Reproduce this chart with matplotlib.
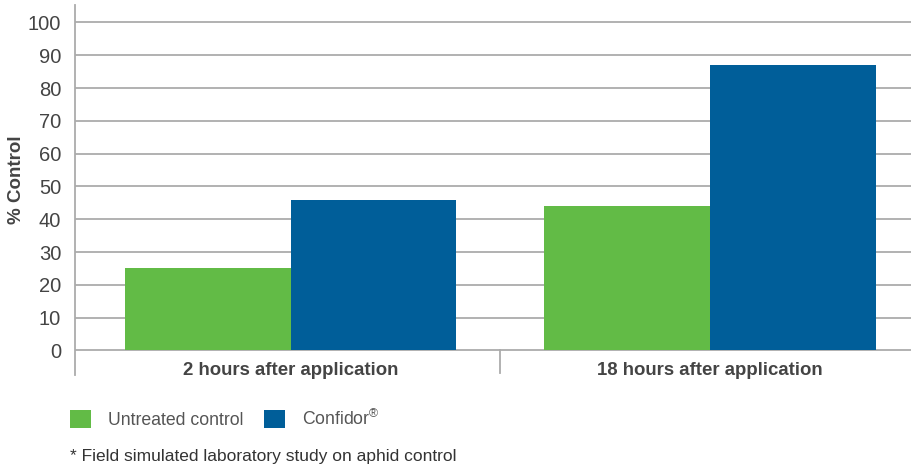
import matplotlib
matplotlib.use("Agg")
import matplotlib.pyplot as plt
import numpy as np

# data
categories = ["2 hours after application", "18 hours after application"]
series_names = ["Untreated control", "Confidor$^{\\mathrm{®}}$"]
untreated = [25, 44]
confidor = [46, 87]
yticks = [0, 10, 20, 30, 40, 50, 60, 70, 80, 90, 100]

GREEN = "#62BB46"
BLUE = "#005E99"
GRID = "#ababab"
TEXT = "#444444"

plt.rcParams["font.family"] = ["Liberation Sans", "DejaVu Sans"]
plt.rcParams["mathtext.fontset"] = "custom"
plt.rcParams["mathtext.rm"] = "Liberation Sans"

fig = plt.figure(figsize=(9.12, 4.70), dpi=100)
ax = fig.add_axes([75 / 912, 1 - 375 / 470, 1 - 75 / 912, 370 / 470])

x = np.arange(len(categories))
w = 0.395
bars1 = ax.bar(x - w / 2, untreated, width=w, color=GREEN, zorder=3, label=series_names[0])
bars2 = ax.bar(x + w / 2, confidor, width=w, color=BLUE, zorder=3, label=series_names[1])

# horizontal grid lines incl. the zero baseline
for t in yticks:
    ax.axhline(t, color=GRID, linewidth=1.3, zorder=1)

ax.set_xlim(-0.515, 1.482)
ax.set_ylim(-7.47, 105.3)

for s in ["top", "right", "bottom"]:
    ax.spines[s].set_visible(False)
ax.spines["left"].set_color(GRID)
ax.spines["left"].set_linewidth(1.3)

ax.set_yticks(yticks)
ax.set_yticklabels([str(t) for t in yticks], fontsize=14.5, color=TEXT)
ax.tick_params(axis="y", length=0, pad=10)
ax.set_xticks([])

# separator between the two categories
ax.plot([0.5, 0.5], [0, -6.9], color=GRID, linewidth=1.3, clip_on=False)

for xi, lab in zip(x, categories):
    ax.text(xi, -6.1, lab, ha="center", va="center", fontsize=13.4,
            fontweight="bold", color=TEXT)

fig.text(17 / 912, 1 - 180 / 470, "% Control", rotation=90, ha="center", va="center",
         fontsize=13.5, fontweight="bold", color=TEXT)

leg = fig.legend(handles=[bars1, bars2], labels=series_names, loc="center left",
                 bbox_to_anchor=(70 / 912, 1 - 418.5 / 470), ncol=2, frameon=False,
                 fontsize=12.7, handlelength=1.2, handleheight=1.2,
                 handletextpad=0.97, columnspacing=1.15, borderpad=0, borderaxespad=0)
for t in leg.get_texts():
    t.set_color("#555555")

fig.text(70 / 912, 1 - 456 / 470, "* Field simulated laboratory study on aphid control",
         ha="left", va="center", fontsize=12.5, color="#333333")

fig.savefig("out.png", dpi=100)
